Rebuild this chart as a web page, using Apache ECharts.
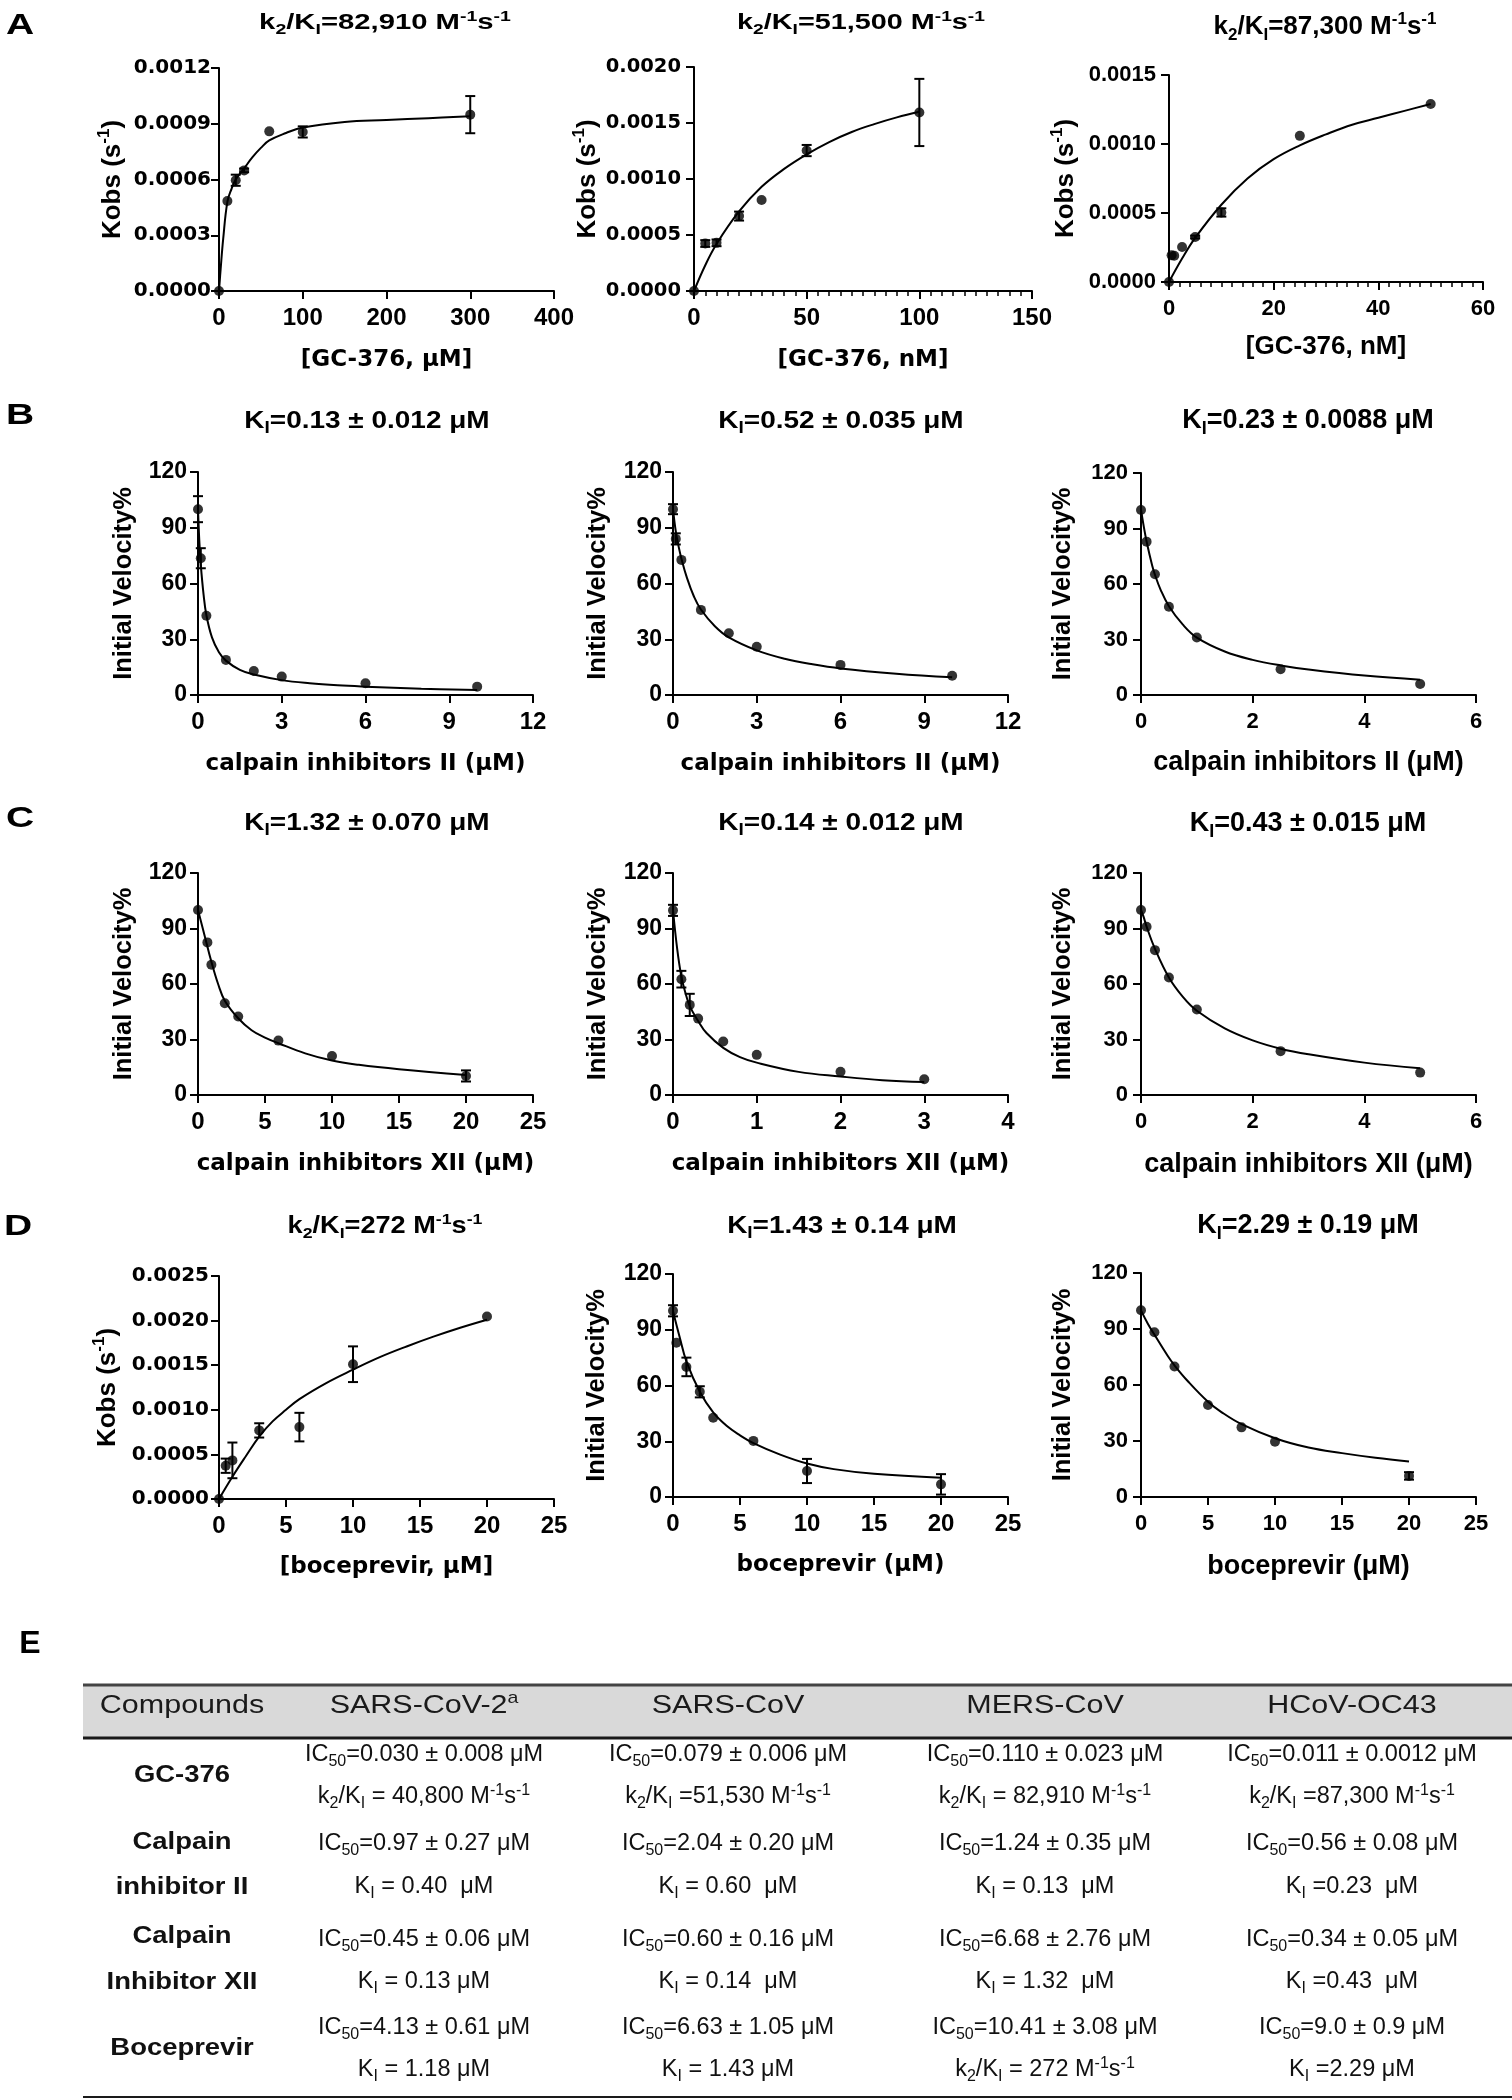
<!DOCTYPE html>
<html>
<head>
<meta charset="utf-8">
<title>Inhibition kinetics</title>
<script src="https://cdn.jsdelivr.net/npm/echarts@6/dist/echarts.min.js"></script>
<style>
html,body{margin:0;padding:0;background:#fff;}
#chart{width:1512px;height:2100px;}
</style>
</head>
<body>
<div id="chart"></div>
<script>
// ================= DATA =================
// A1: GC-376 (µM), kobs
const a1X = [0, 10, 20, 30, 60, 100, 300];
const a1Y = [0, 0.000484, 0.000596, 0.000649, 0.000859, 0.000856, 0.000949];
const a1Err = [0, 0, 0.00003, 0.00001, 0, 0.00003, 0.0001];
const a1FitX = [0, 2, 5, 10, 15, 20, 30, 40, 50, 60, 80, 100, 150, 200, 250, 300];
const a1FitY = [0, 0.00012, 0.00028, 0.00048, 0.00055, 0.0006, 0.00066, 0.00072, 0.00077, 0.00081, 0.00085, 0.00088, 0.00091, 0.00092, 0.00093, 0.00094];
const a1XTicks = [0, 100, 200, 300, 400];
const a1YTicks = [0, 0.0003, 0.0006, 0.0009, 0.0012];

// A2: GC-376 (nM), kobs
const a2X = [0, 5, 10, 20, 30, 50, 100];
const a2Y = [0, 0.000424, 0.00043, 0.000669, 0.000812, 0.001254, 0.001594];
const a2Err = [0, 0.00003, 0.00003, 0.00004, 0, 0.00005, 0.0003];
const a2FitX = [0, 5, 10, 20, 30, 40, 50, 60, 70, 80, 90, 100];
const a2FitY = [0, 0.00023, 0.00042, 0.00071, 0.00093, 0.00109, 0.00122, 0.00133, 0.00142, 0.00149, 0.00155, 0.0016];
const a2XTicks = [0, 50, 100, 150];
const a2YTicks = [0, 0.0005, 0.001, 0.0015, 0.002];

// A3: GC-376 (nM), kobs
const a3X = [0, 0.5, 1, 2.5, 5, 10, 25, 50];
const a3Y = [0, 0.000193, 0.00019, 0.000253, 0.000326, 0.000504, 0.001059, 0.00129];
const a3Err = [0, 0, 0, 0, 0.00001, 0.00003, 0, 0];
const a3FitX = [0, 2.5, 5, 10, 15, 20, 25, 30, 35, 40, 45, 50];
const a3FitY = [0, 0.00017, 0.00032, 0.00056, 0.00075, 0.00089, 0.00099, 0.00107, 0.00114, 0.00119, 0.00124, 0.00129];
const a3XTicks = [0, 20, 40, 60];
const a3YTicks = [0, 0.0005, 0.001, 0.0015];

// B1: calpain inhibitor II
const b1X = [0, 0.1, 0.3, 1, 2, 3, 6, 10];
const b1Y = [100, 73.6, 42.6, 18.9, 12.9, 9.9, 6.3, 4.5];
const b1Err = [7, 5.4, 0, 0, 0, 0, 0, 0];
const b1FitX = [0, 0.05, 0.1, 0.2, 0.3, 0.5, 0.75, 1, 1.5, 2, 3, 4, 5, 6, 8, 10];
const b1FitY = [100, 82, 70, 54, 43, 31, 23, 18.5, 13.5, 11, 8, 6.3, 5.2, 4.5, 3.4, 2.7];
const b1XTicks = [0, 3, 6, 9, 12];

// B2
const b2X = [0, 0.1, 0.3, 1, 2, 3, 6, 10];
const b2Y = [100, 84, 72.7, 45.8, 33.2, 26, 16.2, 10.4];
const b2Err = [2.7, 3, 0, 0, 0, 0, 0, 0];
const b2FitX = [0, 0.1, 0.2, 0.3, 0.5, 0.75, 1, 1.5, 2, 3, 4, 5, 6, 8, 10];
const b2FitY = [100, 88, 80, 73.5, 63, 53, 46, 37, 31, 24, 19.5, 16.5, 14.3, 11.5, 9.5];
const b2XTicks = [0, 3, 6, 9, 12];

// B3
const b3X = [0, 0.1, 0.25, 0.5, 1, 2.5, 5];
const b3Y = [100, 82.9, 65.3, 47.7, 31.1, 13.9, 5.9];
const b3Err = [0, 0, 0, 0, 0, 0, 0];
const b3FitX = [0, 0.05, 0.1, 0.2, 0.25, 0.35, 0.5, 0.75, 1, 1.5, 2, 2.5, 3, 4, 5];
const b3FitY = [100, 91, 83, 70, 65, 57, 48, 38, 31, 23.5, 19, 16, 13.8, 10.5, 8.3];
const b3XTicks = [0, 2, 4, 6];

// C1: calpain inhibitor XII
const c1X = [0, 0.7, 1, 2, 3, 6, 10, 20];
const c1Y = [100, 82.5, 70.4, 49.6, 42.4, 29.4, 21.1, 10.3];
const c1Err = [0, 0, 0, 0, 0, 0, 0, 3];
const c1FitX = [0, 0.5, 1, 1.5, 2, 3, 4, 5, 6, 8, 10, 12, 15, 20];
const c1FitY = [100, 86, 72, 60, 51, 41.5, 35, 31, 28, 22.5, 18.6, 16.3, 13.9, 10.8];
const c1XTicks = [0, 5, 10, 15, 20, 25];

// C2
const c2X = [0, 0.1, 0.2, 0.3, 0.6, 1, 2, 3];
const c2Y = [99.8, 62.6, 48.7, 41.3, 28.9, 21.7, 12.6, 8.5];
const c2Err = [3, 4.5, 6, 0, 0, 0, 0, 0];
const c2FitX = [0, 0.05, 0.1, 0.15, 0.2, 0.3, 0.4, 0.6, 0.8, 1, 1.5, 2, 2.5, 3];
const c2FitY = [100, 79, 64, 55, 48, 40, 33.5, 25.5, 20.5, 17.5, 12.5, 10, 8, 7];
const c2XTicks = [0, 1, 2, 3, 4];

// C3
const c3X = [0, 0.1, 0.25, 0.5, 1, 2.5, 5];
const c3Y = [100, 90.9, 78.3, 63.5, 46.2, 23.7, 12.1];
const c3Err = [0, 0, 0, 0, 0, 0, 0];
const c3FitX = [0, 0.05, 0.1, 0.25, 0.5, 0.75, 1, 1.5, 2, 2.5, 3, 4, 5];
const c3FitY = [100, 96, 91, 79, 63.5, 53, 45.5, 36, 29.5, 25, 22, 17.5, 14.5];
const c3XTicks = [0, 2, 4, 6];

// D1: boceprevir kobs
const d1X = [0, 0.5, 1, 3, 6, 10, 20];
const d1Y = [0, 0.000373, 0.000433, 0.000769, 0.000806, 0.001511, 0.002045];
const d1Err = [0, 0.00008, 0.0002, 0.00008, 0.00016, 0.0002, 0];
const d1FitX = [0, 1, 2, 3, 4, 5, 6, 8, 10, 12, 14, 16, 18, 20];
const d1FitY = [0, 0.00025, 0.00048, 0.0007, 0.00087, 0.001, 0.00112, 0.0013, 0.00145, 0.00159, 0.00171, 0.00182, 0.00192, 0.00201];
const d1XTicks = [0, 5, 10, 15, 20, 25];
const d1YTicks = [0, 0.0005, 0.001, 0.0015, 0.002, 0.0025];

// D2
const d2X = [0, 0.25, 1, 2, 3, 6, 10, 20];
const d2Y = [100.2, 83, 70, 56.6, 42.6, 30.2, 14, 6.8];
const d2Err = [3, 0, 5, 3, 0, 0, 6.5, 5.5];
const d2FitX = [0, 0.5, 1, 2, 3, 4, 5, 6, 8, 10, 12, 15, 20];
const d2FitY = [100, 86, 73, 56.6, 45.5, 38.3, 33.2, 29, 22.8, 18, 15, 12.5, 10.4];
const d2XTicks = [0, 5, 10, 15, 20, 25];

// D3
const d3X = [0, 1, 2.5, 5, 7.5, 10, 20];
const d3Y = [100, 88.3, 69.9, 49.3, 37.3, 29.6, 11.3];
const d3Err = [0, 0, 0, 0, 0, 0, 2];
const d3FitX = [0, 0.5, 1, 2, 2.5, 3.5, 5, 6, 7.5, 10, 12.5, 15, 17.5, 20];
const d3FitY = [100, 93, 87, 75.5, 70.5, 62, 51, 45.5, 39, 31.5, 26.5, 23.5, 21, 19];
const d3XTicks = [0, 5, 10, 15, 20, 25];

const velTicks = [0, 30, 60, 90, 120];

// Texts ( _{..} = subscript, ^{..} = superscript )
const panelTitles = [
  'k_{2}/K_{I}=82,910 M^{-1}s^{-1}', 'k_{2}/K_{I}=51,500 M^{-1}s^{-1}', 'k_{2}/K_{I}=87,300 M^{-1}s^{-1}',
  'K_{I}=0.13 ± 0.012 μM', 'K_{I}=0.52 ± 0.035 μM', 'K_{I}=0.23 ± 0.0088 μM',
  'K_{I}=1.32 ± 0.070 μM', 'K_{I}=0.14 ± 0.012 μM', 'K_{I}=0.43 ± 0.015 μM',
  'k_{2}/K_{I}=272 M^{-1}s^{-1}', 'K_{I}=1.43 ± 0.14 μM', 'K_{I}=2.29 ± 0.19 μM'
];
const xNames = [
  '[GC-376, μM]', '[GC-376, nM]', '[GC-376, nM]',
  'calpain inhibitors II (μM)', 'calpain inhibitors II (μM)', 'calpain inhibitors II (μM)',
  'calpain inhibitors XII (μM)', 'calpain inhibitors XII (μM)', 'calpain inhibitors XII (μM)',
  '[boceprevir, μM]', 'boceprevir (μM)', 'boceprevir (μM)'
];
const kobsName = 'Kobs (s^{-1})';
const velName = 'Initial Velocity%';
const panelLetters = ['A', 'B', 'C', 'D', 'E'];

// Table E
const tableHeaders = ['Compounds', 'SARS-CoV-2^{a}', 'SARS-CoV', 'MERS-CoV', 'HCoV-OC43'];
const rowLabels = [['GC-376'], ['Calpain', 'inhibitor II'], ['Calpain', 'Inhibitor XII'], ['Boceprevir']];
const rowGC376 = [
  ['IC_{50}=0.030 ± 0.008 μM', 'k_{2}/K_{I} = 40,800 M^{-1}s^{-1}'],
  ['IC_{50}=0.079 ± 0.006 μM', 'k_{2}/K_{I} =51,530 M^{-1}s^{-1}'],
  ['IC_{50}=0.110 ± 0.023 μM', 'k_{2}/K_{I} = 82,910 M^{-1}s^{-1}'],
  ['IC_{50}=0.011 ± 0.0012 μM', 'k_{2}/K_{I} =87,300 M^{-1}s^{-1}']
];
const rowCalpainII = [
  ['IC_{50}=0.97 ± 0.27 μM', 'K_{I} = 0.40  μM'],
  ['IC_{50}=2.04 ± 0.20 μM', 'K_{I} = 0.60  μM'],
  ['IC_{50}=1.24 ± 0.35 μM', 'K_{I} = 0.13  μM'],
  ['IC_{50}=0.56 ± 0.08 μM', 'K_{I} =0.23  μM']
];
const rowCalpainXII = [
  ['IC_{50}=0.45 ± 0.06 μM', 'K_{I} = 0.13 μM'],
  ['IC_{50}=0.60 ± 0.16 μM', 'K_{I} = 0.14  μM'],
  ['IC_{50}=6.68 ± 2.76 μM', 'K_{I} = 1.32  μM'],
  ['IC_{50}=0.34 ± 0.05 μM', 'K_{I} =0.43  μM']
];
const rowBoceprevir = [
  ['IC_{50}=4.13 ± 0.61 μM', 'K_{I} = 1.18 μM'],
  ['IC_{50}=6.63 ± 1.05 μM', 'K_{I} = 1.43 μM'],
  ['IC_{50}=10.41 ± 3.08 μM', 'k_{2}/K_{I} = 272 M^{-1}s^{-1}'],
  ['IC_{50}=9.0 ± 0.9 μM', 'K_{I} =2.29 μM']
];

// ================= HELPERS =================
const LIB = "'Liberation Sans', Arial, Helvetica, sans-serif";
const DJV = "'DejaVu Sans', Verdana, sans-serif";

function rich(str) {
  return str.split(/(_\{[^}]*\}|\^\{[^}]*\})/).filter(s => s.length).map(s => {
    if (s.startsWith('_{')) return '{sub|' + s.slice(2, -1) + '}';
    if (s.startsWith('^{')) return '{sup|' + s.slice(2, -1) + '}';
    return '{n|' + s + '}';
  }).join('');
}
function rs(size, family, bold, color) {
  const w = bold ? 'bold' : 'normal';
  const sm = Math.round(size * 0.66);
  const lh = Math.round(size * 1.25);
  const c = color || '#000';
  return {
    n:   {fontSize: size, fontWeight: w, fontFamily: family, lineHeight: lh, verticalAlign: 'middle', color: c, fill: c},
    sub: {fontSize: sm, fontWeight: w, fontFamily: family, lineHeight: sm, verticalAlign: 'bottom', color: c, fill: c},
    sup: {fontSize: sm, fontWeight: w, fontFamily: family, lineHeight: sm, verticalAlign: 'top', color: c, fill: c}
  };
}
function gText(str, x, y, size, family, bold, scaleX, color) {
  return {
    type: 'text', x: x, y: y, scaleX: scaleX || 1, silent: true, z: 10,
    style: {
      text: rich(str), rich: rs(size, family, bold, color),
      fill: color || '#000', fontSize: size, fontFamily: family, fontWeight: bold ? 'bold' : 'normal',
      align: 'center', verticalAlign: 'middle', textAlign: 'center', textVerticalAlign: 'middle'
    }
  };
}

// ================= PANELS =================
const panelData = [
  {px: a1X, py: a1Y, pe: a1Err, fx: a1FitX, fy: a1FitY, xt: a1XTicks, yt: a1YTicks, yn: kobsName},
  {px: a2X, py: a2Y, pe: a2Err, fx: a2FitX, fy: a2FitY, xt: a2XTicks, yt: a2YTicks, yn: kobsName},
  {px: a3X, py: a3Y, pe: a3Err, fx: a3FitX, fy: a3FitY, xt: a3XTicks, yt: a3YTicks, yn: kobsName},
  {px: b1X, py: b1Y, pe: b1Err, fx: b1FitX, fy: b1FitY, xt: b1XTicks, yt: velTicks, yn: velName},
  {px: b2X, py: b2Y, pe: b2Err, fx: b2FitX, fy: b2FitY, xt: b2XTicks, yt: velTicks, yn: velName},
  {px: b3X, py: b3Y, pe: b3Err, fx: b3FitX, fy: b3FitY, xt: b3XTicks, yt: velTicks, yn: velName},
  {px: c1X, py: c1Y, pe: c1Err, fx: c1FitX, fy: c1FitY, xt: c1XTicks, yt: velTicks, yn: velName},
  {px: c2X, py: c2Y, pe: c2Err, fx: c2FitX, fy: c2FitY, xt: c2XTicks, yt: velTicks, yn: velName},
  {px: c3X, py: c3Y, pe: c3Err, fx: c3FitX, fy: c3FitY, xt: c3XTicks, yt: velTicks, yn: velName},
  {px: d1X, py: d1Y, pe: d1Err, fx: d1FitX, fy: d1FitY, xt: d1XTicks, yt: d1YTicks, yn: kobsName},
  {px: d2X, py: d2Y, pe: d2Err, fx: d2FitX, fy: d2FitY, xt: d2XTicks, yt: velTicks, yn: velName},
  {px: d3X, py: d3Y, pe: d3Err, fx: d3FitX, fy: d3FitY, xt: d3XTicks, yt: velTicks, yn: velName}
];

// layout: grid [left, top, width, height]; label fonts; name gaps; title position
const layout = [
  {g: [219, 68, 335, 223],  yf: DJV, ys: 20, ym: 8,  yng: 90, xls: 24, xlm: 15, xf: DJV, xs: 23, xng: 55, dec: 4, minor: false, t: [385, 23, 22.5, 1.3]},
  {g: [694, 67, 338, 224],  yf: DJV, ys: 19.5, ym: 13, yng: 90, xls: 24, xlm: 15, xf: DJV, xs: 23, xng: 55, dec: 4, minor: true, t: [861, 23, 22.5, 1.28]},
  {g: [1169, 75, 314, 207], yf: LIB, ys: 22, ym: 13, yng: 87, xls: 22, xlm: 16, xf: LIB, xs: 26, xng: 48, dec: 4, minor: true, t: [1325, 27, 26, 1.0]},
  {g: [198, 472, 335, 223], yf: LIB, ys: 23, ym: 11, yng: 58, xls: 24, xlm: 15, xf: DJV, xs: 23, xng: 55, dec: 0, minor: false, t: [367, 422, 23.5, 1.19]},
  {g: [673, 472, 335, 223], yf: LIB, ys: 23, ym: 11, yng: 59, xls: 24, xlm: 15, xf: DJV, xs: 23, xng: 55, dec: 0, minor: false, t: [841, 422, 23.5, 1.19]},
  {g: [1141, 473, 335, 222], yf: LIB, ys: 22, ym: 13, yng: 62, xls: 22, xlm: 16, xf: LIB, xs: 27, xng: 51, dec: 0, minor: false, t: [1308, 421, 27, 1.0]},
  {g: [198, 873, 335, 222], yf: LIB, ys: 23, ym: 11, yng: 58, xls: 24, xlm: 15, xf: DJV, xs: 23, xng: 55, dec: 0, minor: false, t: [367, 824, 23.5, 1.19]},
  {g: [673, 873, 335, 222], yf: LIB, ys: 23, ym: 11, yng: 59, xls: 24, xlm: 15, xf: DJV, xs: 23, xng: 55, dec: 0, minor: false, t: [841, 824, 23.5, 1.19]},
  {g: [1141, 873, 335, 222], yf: LIB, ys: 22, ym: 13, yng: 62, xls: 22, xlm: 16, xf: LIB, xs: 27, xng: 53, dec: 0, minor: false, t: [1308, 824, 27, 1.0]},
  {g: [219, 1276, 335, 223], yf: DJV, ys: 20, ym: 10, yng: 95, xls: 24, xlm: 15, xf: DJV, xs: 23, xng: 54, dec: 4, minor: false, t: [385, 1227, 23, 1.18]},
  {g: [673, 1274, 335, 223], yf: LIB, ys: 23, ym: 11, yng: 60, xls: 24, xlm: 15, xf: DJV, xs: 23, xng: 54, dec: 0, minor: false, t: [842, 1227, 23.5, 1.19]},
  {g: [1141, 1273, 335, 224], yf: LIB, ys: 22, ym: 13, yng: 62, xls: 22, xlm: 16, xf: LIB, xs: 27, xng: 53, dec: 0, minor: false, t: [1308, 1226, 27, 1.0]}
];

const grid = [], xAxis = [], yAxis = [], series = [], graphic = [];

panelData.forEach((p, i) => {
  const lay = layout[i];
  grid.push({left: lay.g[0], top: lay.g[1], width: lay.g[2], height: lay.g[3], containLabel: false});
  const axisLine = {show: true, onZero: true, lineStyle: {color: '#000', width: 2}};
  const axisTick = {show: true, length: 8, lineStyle: {color: '#000', width: 2}};
  xAxis.push({
    type: 'value', gridIndex: i,
    min: p.xt[0], max: p.xt[p.xt.length - 1], interval: p.xt[1] - p.xt[0],
    axisLine: axisLine, axisTick: axisTick, splitLine: {show: false},
    minorTick: lay.minor ? {show: true, splitNumber: 10, length: 5, lineStyle: {color: '#000', width: 1.5}} : {show: false},
    minorSplitLine: {show: false},
    axisLabel: {show: true, color: '#000', fontFamily: LIB, fontWeight: 'bold', fontSize: lay.xls, margin: lay.xlm,
                showMinLabel: true, showMaxLabel: true},
    name: rich(xNames[i]), nameLocation: 'middle', nameGap: lay.xng,
    nameTextStyle: {rich: rs(lay.xs, lay.xf, true)}
  });
  const dec = lay.dec;
  yAxis.push({
    type: 'value', gridIndex: i,
    min: p.yt[0], max: p.yt[p.yt.length - 1], interval: p.yt[1] - p.yt[0],
    axisLine: axisLine, axisTick: axisTick, splitLine: {show: false},
    axisLabel: {show: true, color: '#000', fontFamily: lay.yf, fontWeight: 'bold', fontSize: lay.ys, margin: lay.ym,
                showMinLabel: true, showMaxLabel: true,
                formatter: v => dec ? Number(v).toFixed(dec) : String(Math.round(v))},
    name: rich(p.yn), nameLocation: 'middle', nameGap: lay.yng, nameRotate: 90,
    nameTextStyle: {rich: rs(p.yn === velName ? 25.5 : 26, LIB, true)}
  });
  series.push({
    type: 'line', xAxisIndex: i, yAxisIndex: i, silent: true, z: 2,
    data: p.fx.map((x, j) => [x, p.fy[j]]),
    showSymbol: false, symbol: 'none', smooth: 0.4,
    lineStyle: {color: '#000', width: 2}
  });
  series.push({
    type: 'scatter', xAxisIndex: i, yAxisIndex: i, silent: true, z: 3,
    data: p.px.map((x, j) => [x, p.py[j]]),
    symbol: 'circle', symbolSize: 10, itemStyle: {color: '#000'}
  });
  series.push({
    type: 'custom', xAxisIndex: i, yAxisIndex: i, silent: true, z: 4,
    data: p.px.map((x, j) => [x, p.py[j], p.pe[j]]).filter(d => d[2] > 0),
    encode: {x: 0, y: 1},
    renderItem: (params, api) => {
      const x = api.value(0), y = api.value(1), e = api.value(2);
      const t = api.coord([x, y + e]), b = api.coord([x, y - e]);
      const h = 5, st = {stroke: '#000', lineWidth: 2};
      return {type: 'group', children: [
        {type: 'line', shape: {x1: t[0], y1: t[1], x2: b[0], y2: b[1]}, style: st},
        {type: 'line', shape: {x1: t[0] - h, y1: t[1], x2: t[0] + h, y2: t[1]}, style: st},
        {type: 'line', shape: {x1: b[0] - h, y1: b[1], x2: b[0] + h, y2: b[1]}, style: st}
      ]};
    }
  });
  graphic.push(gText(panelTitles[i], lay.t[0], lay.t[1], lay.t[2], LIB, true, lay.t[3]));
});

// Panel letters
const letterPos = [[20, 26, 30, 1.3], [20, 416, 30, 1.3], [20, 819, 30, 1.3], [18, 1227, 30, 1.3], [30, 1644, 32, 1.0]];
panelLetters.forEach((l, k) => {
  const lp = letterPos[k];
  graphic.push(gText(l, lp[0], lp[1], lp[2], LIB, true, lp[3]));
});

// ================= TABLE E =================
const tLeft = 83, tRight = 1512, tTop = 1685, tHeadBottom = 1738, tBottom = 2097;
graphic.push({type: 'rect', silent: true, z: 1, shape: {x: tLeft, y: tTop, width: tRight - tLeft, height: tHeadBottom - tTop},
              style: {fill: '#d9d9d9'}});
graphic.push({type: 'line', silent: true, z: 2, shape: {x1: tLeft, y1: tTop, x2: tRight, y2: tTop}, style: {stroke: '#444', lineWidth: 3}});
graphic.push({type: 'line', silent: true, z: 2, shape: {x1: tLeft, y1: tHeadBottom, x2: tRight, y2: tHeadBottom}, style: {stroke: '#1a1a1a', lineWidth: 3}});
graphic.push({type: 'line', silent: true, z: 2, shape: {x1: tLeft, y1: tBottom, x2: tRight, y2: tBottom}, style: {stroke: '#1a1a1a', lineWidth: 2}});

const colX = [182, 424, 728, 1045, 1352];
const headerY = 1706;
tableHeaders.forEach((h, k) => graphic.push(gText(h, colX[k], headerY, 26.5, LIB, false, 1.15, '#1a1a1a')));

const tableRows = [rowGC376, rowCalpainII, rowCalpainXII, rowBoceprevir];
const cellY = [[1755, 1797], [1844, 1887], [1940, 1982], [2028, 2070]];
const labelY = [[1775], [1842, 1887], [1936, 1982], [2048]];
tableRows.forEach((row, r) => {
  rowLabels[r].forEach((lbl, q) => graphic.push(gText(lbl, colX[0], labelY[r][q], 24.5, LIB, true, 1.12, '#111')));
  row.forEach((cell, c) => {
    cell.forEach((line, q) => graphic.push(gText(line, colX[c + 1], cellY[r][q], 23.5, LIB, false, 1.0, '#111')));
  });
});

const option = {
  backgroundColor: '#ffffff',
  animation: false,
  grid: grid, xAxis: xAxis, yAxis: yAxis, series: series, graphic: graphic
};
const chart = echarts.init(document.getElementById('chart'), null, {renderer: 'canvas', width: 1512, height: 2100});
chart.setOption(option);
</script>
</body>
</html>
